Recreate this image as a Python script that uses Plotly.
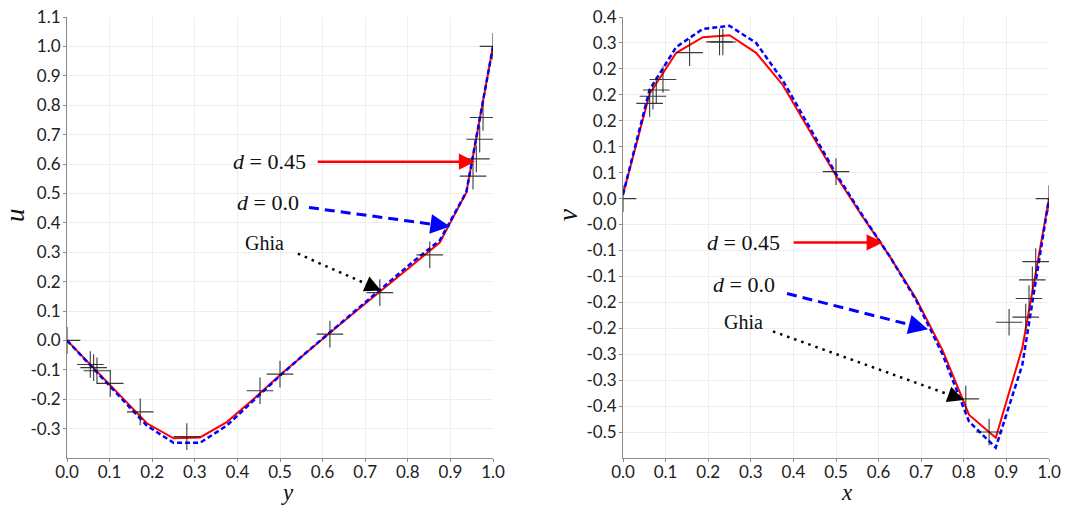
import math
import plotly.graph_objects as go

# ---------------- data ----------------
# computational grid (17 nodes)
grid = [k / 16 for k in range(17)]

# left panel: u along vertical centreline
u_d045 = [0, -0.094, -0.188, -0.282, -0.333, -0.330, -0.278, -0.200, -0.118,
          -0.040, 0.035, 0.110, 0.183, 0.258, 0.333, 0.503, 1.0]
u_d000 = [0, -0.097, -0.194, -0.290, -0.348, -0.348, -0.290, -0.205, -0.120,
          -0.040, 0.037, 0.113, 0.190, 0.268, 0.340, 0.505, 1.0]
ghia_y = [1.0, 0.9766, 0.9688, 0.9609, 0.9531, 0.8516, 0.7344, 0.6172, 0.5,
          0.4531, 0.2813, 0.1719, 0.1016, 0.0703, 0.0625, 0.0547, 0.0]
ghia_u = [1.0, 0.75837, 0.68439, 0.61756, 0.55892, 0.29093, 0.16256, 0.02135,
          -0.11477, -0.17119, -0.32726, -0.24299, -0.14612, -0.10338, -0.09266,
          -0.08186, 0.0]

# right panel: v along horizontal centreline
v_d045 = [0.008, 0.202, 0.281, 0.311, 0.315, 0.281, 0.219, 0.132, 0.044,
          -0.035, -0.110, -0.192, -0.292, -0.417, -0.461, -0.287, 0.0]
v_d000 = [0.008, 0.210, 0.292, 0.327, 0.333, 0.300, 0.228, 0.138, 0.048,
          -0.033, -0.110, -0.195, -0.300, -0.430, -0.480, -0.320, 0.0]
ghia_x = [1.0, 0.9688, 0.9609, 0.9531, 0.9453, 0.9063, 0.8594, 0.8047, 0.5,
          0.2344, 0.2266, 0.1563, 0.0938, 0.0781, 0.0703, 0.0625, 0.0]
ghia_v = [0.0, -0.12146, -0.15663, -0.19254, -0.22847, -0.23827, -0.44993,
          -0.38598, 0.05188, 0.30174, 0.30203, 0.28124, 0.22965, 0.20920,
          0.19713, 0.18360, 0.0]

# tick labels
x_ticks = [i / 10 for i in range(11)]
x_ticktext = ["0.0", "0.1", "0.2", "0.3", "0.4", "0.5", "0.6", "0.7", "0.8", "0.9", "1.0"]
u_ticks = [round(-0.3 + 0.1 * i, 2) for i in range(15)]
u_ticktext = ["-0.3", "-0.2", "-0.1", "0.0", "0.1", "0.2", "0.3", "0.4", "0.5",
              "0.6", "0.7", "0.8", "0.9", "1.0", "1.1"]
v_ticks = [round(-0.45 + 0.05 * i, 3) for i in range(17)]
v_ticktext = ["-0.5", "-0.4", "-0.3", "-0.3", "-0.2", "-0.2", "-0.1", "-0.1",
              "-0.0", "0.0", "0.1", "0.1", "0.2", "0.2", "0.2", "0.3", "0.4"]

# ---------------- figure ----------------
RED = "#ff0000"
BLUE = "#0000ff"
MARK = "rgba(25,25,25,0.85)"

fig = go.Figure()

def add_panel(xs_line, y45, y00, gx, gy, xa, ya):
    fig.add_trace(go.Scatter(x=xs_line, y=y45, mode="lines", xaxis=xa, yaxis=ya,
                             line=dict(color=RED, width=2), showlegend=False,
                             cliponaxis=True))
    fig.add_trace(go.Scatter(x=xs_line, y=y00, mode="lines", xaxis=xa, yaxis=ya,
                             line=dict(color=BLUE, width=2.5, dash="5px,3px"),
                             showlegend=False, cliponaxis=True))
    fig.add_trace(go.Scatter(x=gx, y=gy, mode="markers", xaxis=xa, yaxis=ya,
                             marker=dict(symbol="cross-thin-open", size=19, color=MARK,
                                         line=dict(color=MARK, width=1.1)),
                             showlegend=False, cliponaxis=True))

add_panel(grid, u_d045, u_d000, ghia_y, ghia_u, "x", "y")
add_panel(grid, v_d045, v_d000, ghia_x, ghia_v, "x2", "y2")

W, H = 1065, 506
xdom1 = [67 / W, 493 / W]
xdom2 = [623 / W, 1049 / W]
ydom = [1 - 458 / H, 1 - 17 / H]

tickfont = dict(family="Lato, Open Sans, sans-serif", size=17, color="#222")
common = dict(showline=True, linecolor="#8a8a8a", linewidth=1, ticks="outside",
              ticklen=3, tickcolor="#8a8a8a", showgrid=True, gridcolor="#eeeeee",
              gridwidth=1, zeroline=False, tickfont=tickfont, mirror=False,
              automargin=False)

fig.update_layout(
    template="none",
    width=W, height=H, margin=dict(l=0, r=0, t=0, b=0, pad=0),
    paper_bgcolor="white", plot_bgcolor="white",
    xaxis=dict(domain=xdom1, range=[0, 1], tickvals=x_ticks, ticktext=x_ticktext,
               anchor="y", ticklabelstandoff=-4, **common),
    yaxis=dict(domain=ydom, range=[-0.4, 1.1], tickvals=u_ticks, ticktext=u_ticktext,
               anchor="x", ticklabelstandoff=-1, **common),
    xaxis2=dict(domain=xdom2, range=[0, 1], tickvals=x_ticks, ticktext=x_ticktext,
                anchor="y2", ticklabelstandoff=-4, **common),
    yaxis2=dict(domain=ydom, range=[-0.5, 0.35], tickvals=v_ticks, ticktext=v_ticktext,
                anchor="x2", ticklabelstandoff=-1, **common),
)

SERIF = "Liberation Serif, DejaVu Serif, serif"
annotations = []
shapes = []

# axis titles
for txt, px in [("<i>y</i>", 287), ("<i>x</i>", 847)]:
    annotations.append(dict(text=txt, x=px / W, y=0, xref="paper", yref="paper",
                            showarrow=False, xanchor="center", yanchor="bottom",
                            borderpad=0, font=dict(family=SERIF, size=23, color="#111")))
for txt, px in [("<i>u</i>", 15), ("<i>v</i>", 568)]:
    annotations.append(dict(text=txt, x=px / W, y=1 - 215 / H, xref="paper", yref="paper",
                            showarrow=False, textangle=-90, xanchor="center",
                            yanchor="middle", font=dict(family=SERIF, size=27, color="#111")))

# pixel scales of the two panels (px per data unit)
scale = {"x": 426.0, "y": 441.0 / 1.5, "x2": 426.0, "y2": 441.0 / 0.85}

# arrows: (xref, yref, tail, head, color, dash, width, label, xshift, yshift, size)
arrows = [
    ("x", "y", (0.585, 0.608), (0.958, 0.608), RED, "solid", 2.5,
     "<i>d</i> = 0.45", -8, 0, 22),
    ("x", "y", (0.568, 0.452), (0.899, 0.387), BLUE, "10px,6px", 3,
     "<i>d</i> = 0.0", -8, 5, 22),
    ("x", "y", (0.542, 0.295), (0.737, 0.170), "black", "2.5px,5px", 2.5,
     "Ghia", -12, 11, 20),
    ("x2", "y2", (0.397, -0.0846), (0.610, -0.0846), RED, "solid", 2.5,
     "<i>d</i> = 0.45", -10, 0, 22),
    ("x2", "y2", (0.385, -0.183), (0.716, -0.252), BLUE, "10px,6px", 3,
     "<i>d</i> = 0.0", -10, 9, 22),
    ("x2", "y2", (0.352, -0.256), (0.800, -0.388), "black", "2.5px,5px", 2.5,
     "Ghia", -8, 9, 20),
]

for xr, yr, (tx, ty), (hx, hy), col, dash, w, label, xs, ys, fs in arrows:
    dxp = (hx - tx) * scale[xr]
    dyp = (hy - ty) * scale[yr]
    L = math.hypot(dxp, dyp)
    back = 14.0 / L
    bx = hx - (hx - tx) * back
    by = hy - (hy - ty) * back
    if dash == "solid":
        annotations.append(dict(x=hx, y=hy, ax=tx, ay=ty, xref=xr, yref=yr,
                                axref=xr, ayref=yr, text="", showarrow=True,
                                arrowhead=2, arrowsize=1.3, arrowwidth=w, arrowcolor=col,
                                standoff=0))
    else:
        shapes.append(dict(type="line", xref=xr, yref=yr, x0=tx, y0=ty, x1=bx, y1=by,
                           line=dict(color=col, width=w, dash=dash)))
        annotations.append(dict(x=hx, y=hy, ax=bx, ay=by, xref=xr, yref=yr,
                                axref=xr, ayref=yr, text="", showarrow=True,
                                arrowhead=2, arrowsize=1.3, arrowwidth=w, arrowcolor=col,
                                standoff=0))
    annotations.append(dict(x=tx, y=ty, xref=xr, yref=yr, text=label, showarrow=False,
                            xanchor="right", yanchor="middle", xshift=xs, yshift=ys,
                            font=dict(family=SERIF, size=fs, color="#111")))

fig.update_layout(annotations=annotations, shapes=shapes)

fig.write_html("out.html")
